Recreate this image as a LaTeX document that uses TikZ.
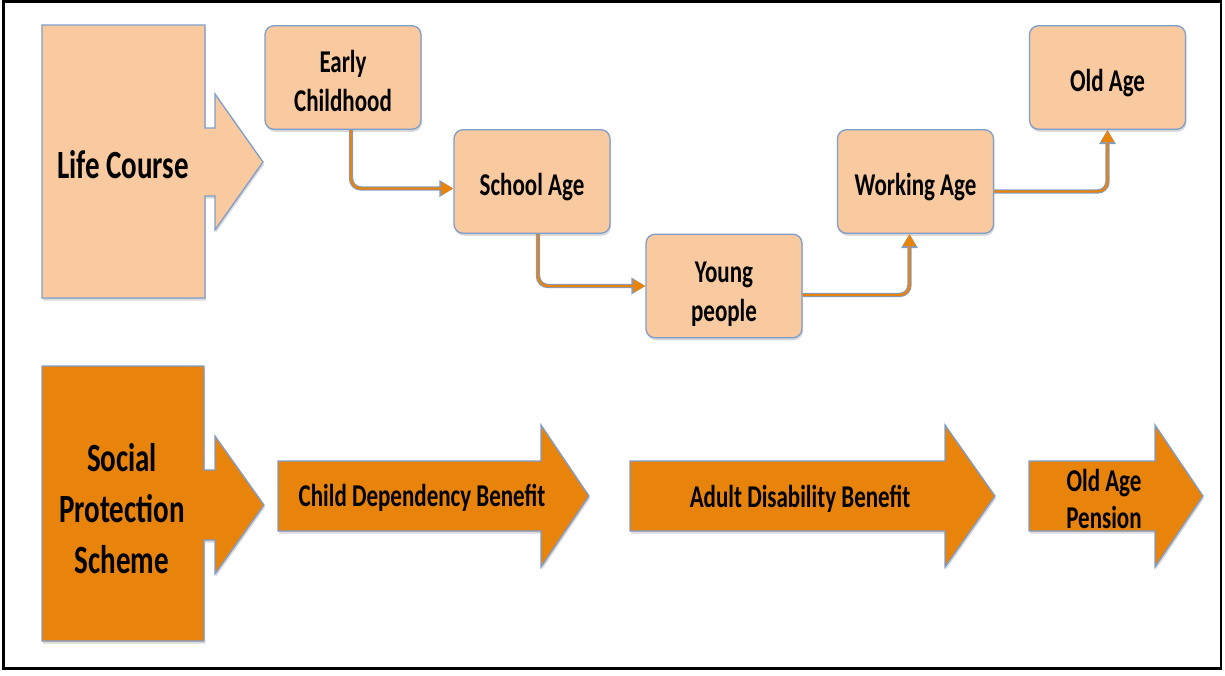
\documentclass[tikz,border=0pt]{standalone}
\usepackage{fontspec}
\setmainfont{Carlito}
\usetikzlibrary{arrows.meta,shadows}

\definecolor{peach}{HTML}{F9C9A0}
\definecolor{deeporange}{HTML}{E8830C}
\definecolor{edgeblue}{HTML}{7F9DC9}

\tikzset{
  softshadow/.style={drop shadow={opacity=0.25, shadow xshift=1pt, shadow yshift=-2.5pt, fill=black!60}},
  bigblock/.style={draw=edgeblue, line width=1.3pt, line join=miter, softshadow},
  stagebox/.style={draw=edgeblue, line width=1.3pt, fill=peach, rounded corners=9pt,
    minimum width=156pt, minimum height=75pt, align=center,
    font=\fontsize{23}{28.5}\selectfont\bfseries, yscale=1.38, transform shape, softshadow,
    execute at begin node={\rule{0pt}{#1}}},
  stagebox/.default=24pt,
  biglabel/.style={align=center, font=\fontsize{29}{37}\selectfont\bfseries, yscale=1.38, transform shape},
  benefitlabel/.style={align=center, font=\fontsize{23}{27}\selectfont\bfseries, yscale=1.38, transform shape},
  link/.style={draw=deeporange, line width=2.4pt, rounded corners=10pt,
    -{Triangle[length=12pt, width=13pt]},
    preaction={draw=edgeblue, line width=4.4pt, -{Triangle[length=14pt, width=16pt]}}},
}

\begin{document}
\begin{tikzpicture}[x=1pt, y=-1pt]
  \useasboundingbox (0,0) rectangle (1225,675);

  % frame
  \draw[line width=2.5pt] (3.5,1.5) rectangle (1221,668.5);

  % ==========================================
  % Life course
  % ==========================================
  \draw[bigblock, fill=peach] (42,25) -- (205,25) -- (205,128) -- (215,128) -- (215,94)
    -- (263,162) -- (215,230) -- (215,196) -- (205,196) -- (205,298) -- (42,298) -- cycle;
  \node[biglabel] (life) at (123,165) {Life Course};

  % stages
  \node[stagebox=50pt] (ec) at (343,77.5)   {Early\\Childhood};
  \node[stagebox] (sa) at (532,181.5)  {School Age};
  \node[stagebox=55pt] (yp) at (724,286)    {Young\\people};
  \node[stagebox] (wa) at (915.5,181.5) {Working Age};
  \node[stagebox] (oa) at (1107.5,77.5) {Old Age};

  % connectors
  \draw[link] ([xshift=8pt]ec.south) |- ([yshift=-7pt]sa.west);
  \draw[link] ([xshift=6pt]sa.south) |- (yp.west);
  \draw[link] ([yshift=-9pt]yp.east) -| ([xshift=-6pt]wa.south);
  \draw[link] ([yshift=-10pt]wa.east) -| (oa.south);

  % ==========================================
  % Social protection scheme
  % ==========================================
  \draw[bigblock, fill=deeporange] (42,366) -- (204,366) -- (204,470) -- (215,470) -- (215,436)
    -- (264,505) -- (215,574) -- (215,540) -- (204,540) -- (204,641) -- (42,641) -- cycle;
  \node[biglabel] (social) at (122,509) {Social\\Protection\\Scheme};

  % benefits
  \draw[bigblock, fill=deeporange] (278,461) -- (541,461) -- (541,425) -- (589,496)
    -- (541,567) -- (541,531) -- (278,531) -- cycle;
  \node[benefitlabel] (cdb) at (422,498) {Child Dependency Benefit};

  \draw[bigblock, fill=deeporange] (630,461) -- (945,461) -- (945,425) -- (995,496)
    -- (945,567) -- (945,531) -- (630,531) -- cycle;
  \node[benefitlabel] (adb) at (800,499) {Adult Disability Benefit};

  \draw[bigblock, fill=deeporange] (1029,461) -- (1155,461) -- (1155,425) -- (1203,496)
    -- (1155,567) -- (1155,531) -- (1029,531) -- cycle;
  \node[benefitlabel] (oap) at (1104,499) {Old Age\\Pension};

\end{tikzpicture}
\end{document}
